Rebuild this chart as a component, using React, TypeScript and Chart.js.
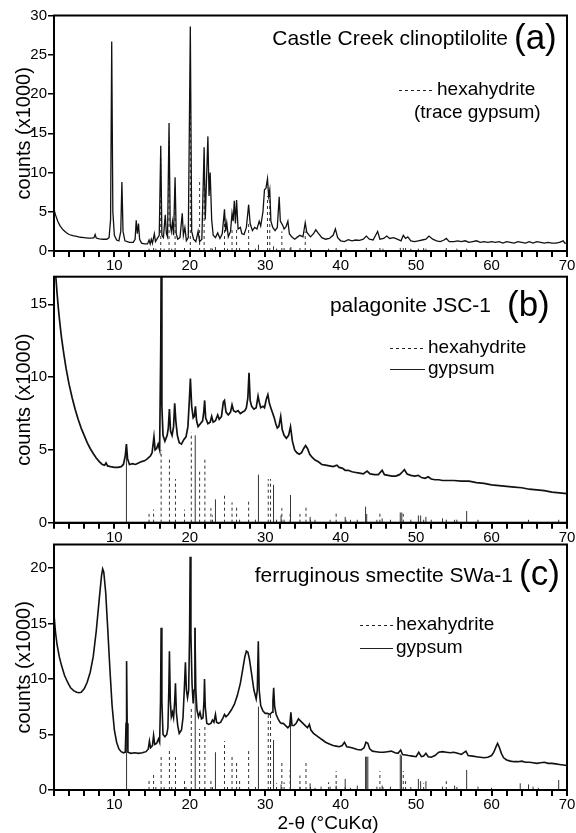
import React, { useEffect, useRef } from "react";
import { Chart, registerables } from "chart.js";
Chart.register(...registerables);

const FONT = "'Liberation Sans', Arial, Helvetica, sans-serif";
const X_MIN = 2;
const X_MAX = 70;
const X_LABELED = [10, 20, 30, 40, 50, 60, 70];
const Y_STEP = 5;
const Y_TITLE = "counts (x1000)";
const X_TITLE = "2-\u03b8 (\u00b0CuK\u03b1)";

type Pt = [number, number];

// ---------- (a) Castle Creek clinoptilolite ----------
const profileA: Pt[] = [
  [2, 5.3], [2.2, 4.6], [2.5, 3.8], [2.8, 3.2], [3.2, 2.7], [3.6, 2.35], [4, 2.1], [4.5, 1.95], [5, 1.85], [5.5, 1.75],
  [6, 1.7], [6.5, 1.65], [7, 1.65], [7.3, 1.7], [7.45, 2.1], [7.6, 1.65], [8, 1.55], [8.5, 1.5], [9, 1.5], [9.3, 1.7],
  [9.5, 4], [9.65, 26.7], [9.8, 5], [10, 2], [10.3, 1.4], [10.6, 1.3], [10.85, 2.5], [11.0, 8.8], [11.15, 2.5], [11.4, 1.3],
  [12, 1.1], [12.5, 1.1], [12.75, 1.5], [12.9, 3.9], [13.05, 2.2], [13.2, 3.5], [13.35, 1.5], [13.6, 1.0], [14, 0.9], [14.4, 0.9],
  [14.6, 1.4], [14.75, 0.9], [14.9, 1.5], [15.05, 1.0], [15.3, 2.2], [15.45, 1.2], [15.7, 1.6], [15.95, 2.0], [16.15, 13.4], [16.3, 2.0],
  [16.5, 1.7], [16.75, 4.6], [16.9, 2.2], [17.05, 1.8], [17.25, 16.3], [17.4, 3.5], [17.55, 2.5], [17.7, 3.7], [17.85, 2.0], [18.05, 9.4],
  [18.2, 2.2], [18.4, 1.5], [18.7, 1.7], [19.0, 4.8], [19.15, 2.0], [19.35, 3.0], [19.55, 1.3], [19.8, 1.7], [20.07, 28.6], [20.25, 2.5],
  [20.5, 1.5], [20.8, 1.2], [21.1, 2.5], [21.3, 1.2], [21.6, 1.5], [21.9, 13.2], [22.05, 4], [22.4, 14.6], [22.55, 7], [22.7, 10],
  [22.9, 4], [23.1, 2], [23.4, 1.7], [23.7, 2.3], [24.0, 1.6], [24.3, 2.2], [24.6, 5.3], [24.75, 2.5], [24.9, 3.6], [25.1, 1.8],
  [25.4, 2.5], [25.6, 4.8], [25.75, 3.8], [25.9, 6.4], [26.05, 3.5], [26.2, 6.5], [26.4, 2.8], [26.7, 3.0], [26.9, 2.2], [27.2, 2.1],
  [27.5, 3.0], [27.8, 5.9], [28.0, 3.5], [28.3, 2.6], [28.6, 3.0], [28.9, 2.8], [29.2, 3.8], [29.4, 3.2], [29.7, 5.0], [29.9, 7.8],
  [30.1, 8.0], [30.3, 9.2], [30.45, 7.0], [30.6, 7.8], [30.75, 3.8], [31.0, 3.0], [31.3, 2.6], [31.6, 3.0], [31.85, 6.9], [32.0, 3.8],
  [32.3, 3.3], [32.5, 2.8], [32.75, 3.1], [33.0, 3.8], [33.2, 2.2], [33.5, 1.8], [33.9, 1.5], [34.3, 1.8], [34.6, 2.0], [35.0, 1.8],
  [35.3, 3.6], [35.5, 2.4], [36.0, 1.8], [36.4, 2.2], [36.7, 2.7], [37.0, 2.3], [37.5, 1.7], [38.0, 1.5], [38.5, 1.6], [39.0, 2.0],
  [39.3, 2.8], [39.6, 1.7], [40.0, 1.3], [40.5, 1.2], [41.0, 1.45], [41.5, 1.3], [42.0, 1.4], [42.5, 1.35], [43.0, 1.5], [43.4, 1.9],
  [43.8, 1.5], [44.3, 1.4], [44.9, 2.5], [45.2, 1.5], [45.7, 1.6], [46.1, 1.9], [46.5, 1.6], [47.0, 1.7], [47.5, 1.5], [48.0, 1.3],
  [48.3, 2.0], [48.6, 1.6], [48.9, 1.8], [49.3, 1.3], [49.8, 1.2], [50.3, 1.3], [50.8, 1.4], [51.3, 1.5], [51.7, 1.9], [52.2, 1.5],
  [52.7, 1.3], [53.2, 1.2], [53.7, 1.4], [54.0, 1.6], [54.4, 1.2], [55.0, 1.2], [55.5, 1.3], [56.0, 1.2], [56.5, 1.3], [57.0, 1.1],
  [57.5, 1.2], [58.0, 1.3], [58.5, 1.1], [59.0, 1.2], [59.5, 1.1], [60.0, 1.2], [60.5, 1.1], [61.0, 1.2], [61.5, 1.0], [62.0, 1.2],
  [62.5, 1.1], [63.0, 1.0], [63.5, 1.2], [64.0, 1.1], [64.5, 1.0], [65.0, 1.2], [65.5, 1.0], [66.0, 1.2], [66.5, 1.1], [67.0, 1.0],
  [67.5, 1.1], [68.0, 1.0], [68.5, 1.0], [69.0, 1.1], [69.5, 1.3], [69.7, 1.0], [70, 1.0],
];
const hexaA: Pt[] = [
  [14.6, 0.3], [15.2, 0.5], [15.5, 0.3], [16.15, 12], [16.6, 0.3], [17.25, 14], [17.6, 0.3], [18.05, 8], [19.3, 0.6], [20.07, 20],
  [21.3, 9.2], [21.9, 11], [22.8, 0.6], [23.0, 0.3], [24.6, 4.5], [25.0, 0.3], [25.6, 3], [26.2, 2.8], [26.6, 0.6], [27.8, 3.5],
  [28.7, 0.3], [30.3, 7], [30.6, 7], [31.5, 0.3], [32.2, 2.5], [32.5, 0.4], [33.3, 0.5], [34.6, 0.6], [35.3, 2.5], [36.0, 0.3],
  [38.4, 0.3], [39.4, 0.6], [40.7, 0.3], [45.2, 0.6], [45.6, 0.3], [48.3, 0.6], [48.6, 0.4], [49.3, 0.3], [51.0, 0.4], [54.0, 0.4],
  [55.4, 0.3],
];
const gypA: Pt[] = [
  [23.4, 0.5], [29.1, 0.8], [31.1, 0.6], [33.4, 0.5], [43.4, 0.4], [47.9, 0.4], [50.3, 0.3], [51.3, 0.3], [56.7, 0.3],
];

// ---------- (b) palagonite JSC-1 ----------
const profileB: Pt[] = [
  [2, 19], [2.2, 17.2], [2.4, 15.8], [2.6, 14.6], [2.8, 13.6], [3, 12.7], [3.3, 11.6], [3.6, 10.6], [4, 9.5], [4.4, 8.6],
  [4.8, 7.8], [5.2, 7.1], [5.6, 6.5], [6, 6.0], [6.4, 5.5], [6.8, 5.1], [7.2, 4.75], [7.6, 4.45], [8, 4.2], [8.4, 4.0],
  [8.7, 3.95], [8.9, 4.1], [9.1, 3.9], [9.5, 3.85], [10, 3.8], [10.5, 3.8], [10.9, 3.85], [11.2, 4.0], [11.45, 4.6], [11.6, 5.4],
  [11.75, 4.4], [12, 4.0], [12.4, 4.05], [12.8, 4.0], [13.2, 4.1], [13.6, 4.2], [14, 4.25], [14.4, 4.4], [14.8, 4.6], [15.0, 4.8],
  [15.25, 5.9], [15.4, 5.0], [15.6, 5.1], [15.8, 5.4], [16.0, 5.0], [16.15, 12], [16.22, 19], [16.3, 8], [16.45, 6], [16.7, 5.6],
  [17.0, 6.0], [17.15, 6.5], [17.3, 7.8], [17.45, 6.3], [17.65, 6.0], [17.85, 6.6], [18.0, 8.2], [18.15, 7.0], [18.35, 6.0], [18.6, 5.5],
  [18.9, 5.4], [19.2, 5.7], [19.5, 5.9], [19.75, 6.6], [19.95, 8.5], [20.08, 9.9], [20.25, 8.0], [20.45, 7.2], [20.6, 7.3], [20.75, 8.0],
  [20.9, 7.0], [21.1, 6.6], [21.4, 6.8], [21.7, 7.0], [21.85, 7.6], [21.97, 8.4], [22.1, 7.2], [22.4, 6.8], [22.7, 6.9], [22.9, 7.3],
  [23.1, 6.9], [23.4, 7.0], [23.7, 7.4], [23.9, 7.1], [24.2, 7.3], [24.45, 8.3], [24.6, 8.4], [24.8, 7.6], [25.1, 7.4], [25.4, 7.6],
  [25.6, 8.1], [25.8, 7.7], [26.1, 7.6], [26.4, 7.7], [26.7, 7.5], [27.0, 7.6], [27.3, 7.7], [27.5, 7.9], [27.7, 8.6], [27.85, 10.3],
  [28.0, 8.4], [28.2, 8.0], [28.5, 7.8], [28.8, 7.9], [29.05, 8.7], [29.2, 8.3], [29.4, 7.9], [29.7, 8.0], [29.9, 7.9], [30.15, 8.5],
  [30.35, 8.8], [30.55, 8.2], [30.8, 7.8], [31.0, 7.5], [31.2, 7.2], [31.4, 6.8], [31.6, 6.5], [31.8, 6.6], [32.05, 7.3], [32.25, 6.4],
  [32.5, 6.0], [32.8, 5.8], [33.1, 6.0], [33.35, 6.6], [33.6, 5.6], [33.9, 5.0], [34.2, 4.8], [34.5, 4.7], [34.8, 4.8], [35.1, 5.1],
  [35.35, 5.3], [35.6, 5.1], [35.9, 4.7], [36.2, 4.5], [36.6, 4.3], [37.0, 4.2], [37.5, 4.0], [38.0, 3.95], [38.5, 3.9], [39.0, 3.85],
  [39.5, 3.95], [39.8, 3.8], [40.2, 3.75], [40.6, 3.6], [41.0, 3.6], [41.5, 3.5], [42, 3.45], [42.5, 3.4], [43, 3.35], [43.5, 3.55],
  [43.9, 3.35], [44.5, 3.3], [45, 3.3], [45.5, 3.6], [45.8, 3.3], [46.3, 3.25], [46.8, 3.2], [47.3, 3.2], [47.8, 3.3], [48.2, 3.5],
  [48.45, 3.65], [48.8, 3.35], [49.3, 3.25], [49.8, 3.2], [50.3, 3.25], [50.7, 3.1], [51.2, 3.05], [51.6, 3.15], [52, 3.0], [52.5, 2.95],
  [53, 2.95], [53.5, 2.9], [54, 2.9], [55, 2.9], [56, 2.85], [57, 2.85], [58, 2.75], [59, 2.7], [60, 2.6], [61, 2.55],
  [62, 2.5], [63, 2.45], [64, 2.4], [65, 2.3], [66, 2.25], [67, 2.2], [68, 2.1], [69, 2.05], [70, 2.0],
];
const hexaB: Pt[] = [
  [14.6, 0.6], [15.2, 0.9], [16.2, 5.0], [17.3, 4.4], [18.1, 3.0], [19.3, 0.9], [20.2, 6.2], [21.3, 3.5], [22.0, 4.4], [22.8, 1.0],
  [23.0, 0.5], [24.6, 2.0], [25.6, 1.4], [26.2, 1.1], [26.6, 0.4], [27.8, 1.6], [28.7, 0.4], [30.4, 3.0], [30.7, 3.0], [31.5, 0.4],
  [32.2, 1.0], [32.5, 0.4], [33.3, 0.6], [34.6, 0.6], [35.4, 1.1], [36.0, 0.3], [39.4, 0.8], [40.7, 0.3], [45.2, 0.8], [48.3, 0.6],
  [49.3, 0.4], [51.0, 0.4], [52.0, 0.3], [54.0, 0.4], [55.4, 0.3],
];
const gypB: Pt[] = [
  [11.6, 5.4], [20.72, 6.0], [23.4, 1.6], [29.1, 3.3], [31.1, 2.6], [32.1, 0.5], [33.35, 1.9], [35.95, 0.4], [36.6, 0.2], [38.6, 0.2],
  [40.6, 0.4], [41.3, 0.2], [42.2, 0.2], [43.3, 1.1], [43.45, 0.6], [44.8, 0.2], [45.5, 0.3], [46.6, 0.2], [47.9, 0.7], [48.1, 0.7],
  [50.3, 0.5], [50.6, 0.5], [51.3, 0.4], [53.5, 0.3], [55.1, 0.2], [56.7, 0.8], [58.2, 0.2], [64.9, 0.2], [68.9, 0.2],
];

// ---------- (c) ferruginous smectite SWa-1 ----------
const profileC: Pt[] = [
  [2, 15.8], [2.2, 14.2], [2.4, 13.1], [2.7, 12.0], [3, 11.2], [3.4, 10.3], [3.8, 9.7], [4.2, 9.2], [4.6, 8.95], [5, 8.8],
  [5.3, 8.75], [5.6, 8.8], [6, 9.1], [6.4, 9.7], [6.8, 10.6], [7.2, 12.0], [7.6, 14.3], [8, 17.2], [8.3, 19.3], [8.45, 19.9],
  [8.6, 19.6], [8.85, 17.8], [9.1, 14.8], [9.4, 11.0], [9.7, 7.6], [10, 5.4], [10.3, 4.3], [10.6, 3.7], [10.9, 3.45], [11.2, 3.35],
  [11.45, 3.4], [11.55, 6], [11.62, 11.6], [11.7, 6], [11.8, 3.4], [12.2, 3.3], [12.7, 3.35], [13.2, 3.3], [13.7, 3.35], [14.2, 3.45],
  [14.5, 3.7], [14.65, 4.4], [14.8, 3.8], [15.05, 4.0], [15.2, 4.9], [15.35, 4.1], [15.6, 4.2], [15.85, 4.6], [16.0, 4.3], [16.12, 8],
  [16.2, 14.6], [16.3, 8], [16.45, 5.0], [16.7, 4.8], [16.95, 5.0], [17.1, 5.6], [17.22, 9], [17.3, 12.5], [17.42, 8], [17.55, 6.6],
  [17.7, 7.0], [17.85, 6.5], [18.0, 8], [18.1, 9.6], [18.22, 7], [18.4, 5.8], [18.6, 5.1], [18.9, 5.4], [19.1, 6.5], [19.3, 9.5],
  [19.42, 11.5], [19.55, 9.0], [19.7, 8.3], [19.85, 9.0], [19.97, 14], [20.05, 21.0], [20.15, 14], [20.3, 9.5], [20.45, 7.8], [20.58, 9],
  [20.68, 14.6], [20.8, 9], [20.95, 7.2], [21.15, 6.6], [21.35, 7.0], [21.55, 6.4], [21.75, 6.5], [21.88, 8], [21.95, 10.0], [22.05, 7.5],
  [22.25, 6.0], [22.5, 5.9], [22.8, 6.0], [23.0, 6.3], [23.2, 6.1], [23.4, 6.8], [23.55, 6.1], [23.8, 6.0], [24.1, 6.1], [24.4, 6.5],
  [24.6, 6.8], [24.8, 6.6], [25.1, 6.8], [25.5, 7.2], [25.9, 7.7], [26.3, 8.5], [26.7, 9.6], [27.0, 10.8], [27.3, 12.0], [27.5, 12.5],
  [27.7, 12.4], [27.9, 11.8], [28.2, 10.4], [28.5, 9.0], [28.8, 8.2], [28.95, 9], [29.08, 13.4], [29.2, 9], [29.4, 7.6], [29.7, 7.1],
  [30.0, 6.9], [30.3, 6.9], [30.6, 6.8], [30.9, 7.0], [31.02, 8], [31.12, 9.2], [31.25, 7.5], [31.45, 6.8], [31.7, 6.4], [31.95, 6.1],
  [32.15, 6.0], [32.4, 6.0], [32.7, 5.8], [33.0, 5.6], [33.25, 5.8], [33.4, 7.0], [33.55, 5.8], [33.8, 5.8], [34.1, 6.0], [34.4, 6.4],
  [34.7, 6.2], [35.0, 6.0], [35.3, 5.8], [35.6, 5.6], [35.85, 5.9], [36.05, 5.4], [36.4, 5.1], [36.8, 4.9], [37.2, 4.7], [37.6, 4.5],
  [38.0, 4.3], [38.5, 4.15], [39.0, 4.0], [39.4, 3.95], [39.8, 3.9], [40.2, 4.0], [40.5, 4.3], [40.8, 3.9], [41.2, 3.85], [41.7, 3.75],
  [42.2, 3.65], [42.7, 3.6], [43.1, 3.8], [43.35, 4.3], [43.6, 4.2], [43.85, 3.7], [44.2, 3.5], [44.7, 3.45], [45.2, 3.4], [45.7, 3.4],
  [46.2, 3.45], [46.7, 3.5], [47.2, 3.35], [47.6, 3.3], [47.95, 3.6], [48.2, 3.2], [48.6, 3.15], [49.0, 3.1], [49.5, 3.05], [50.0, 3.0],
  [50.35, 3.4], [50.7, 3.0], [51.0, 3.05], [51.3, 3.3], [51.6, 3.0], [52.0, 2.95], [52.5, 3.1], [53.0, 3.4], [53.5, 3.45], [54.0, 3.4],
  [54.5, 3.35], [55.0, 3.4], [55.5, 3.3], [56.0, 3.2], [56.6, 3.5], [56.9, 3.1], [57.5, 3.05], [58.0, 3.0], [58.5, 2.95], [59.0, 2.9],
  [59.5, 2.95], [60.0, 3.1], [60.3, 3.4], [60.6, 3.9], [60.8, 4.2], [61.0, 3.9], [61.3, 3.3], [61.6, 2.9], [62.0, 2.7], [62.5, 2.6],
  [63.0, 2.55], [63.5, 2.55], [64.0, 2.6], [64.5, 2.5], [65.0, 2.5], [65.5, 2.45], [66.0, 2.4], [66.5, 2.45], [67.0, 2.5], [67.5, 2.4],
  [68.0, 2.4], [68.5, 2.35], [69.0, 2.3], [69.5, 2.25], [70.0, 2.2],
];
const hexaC: Pt[] = [
  [14.6, 1.0], [15.2, 1.5], [15.5, 0.5], [16.2, 3.0], [16.6, 0.5], [17.3, 3.6], [17.6, 0.5], [18.1, 3.2], [19.3, 0.9], [19.5, 0.5],
  [20.2, 7.5], [21.3, 5.5], [22.0, 5.8], [22.8, 1.0], [23.0, 0.3], [24.6, 4.4], [25.0, 0.3], [25.6, 3.2], [26.2, 2.6], [26.6, 1.0],
  [27.8, 3.5], [28.7, 0.3], [30.4, 6.8], [30.7, 6.8], [31.5, 0.6], [32.2, 2.6], [32.5, 0.7], [33.3, 1.8], [34.6, 1.3], [35.4, 2.7],
  [36.0, 0.4], [38.4, 0.7], [39.4, 1.7], [40.6, 0.4], [45.2, 1.7], [45.6, 0.5], [48.3, 1.7], [48.6, 0.8], [49.3, 0.5], [51.0, 0.6],
  [54.0, 0.8], [55.4, 0.5],
];
const gypC: Pt[] = [
  [11.62, 11.6], [20.72, 14.6], [23.4, 3.4], [29.1, 7.5], [31.1, 4.5], [32.1, 0.5], [33.35, 6.9], [34.6, 0.3], [35.95, 0.6], [36.6, 0.2],
  [37.4, 0.3], [38.6, 0.3], [39.4, 0.4], [40.6, 1.0], [41.3, 0.2], [42.2, 0.4], [43.3, 3.0], [43.45, 3.0], [43.6, 3.0], [44.8, 0.3],
  [45.5, 0.4], [46.6, 0.3], [47.9, 3.2], [48.05, 3.1], [50.3, 1.0], [50.6, 0.8], [51.3, 0.8], [53.5, 0.3], [55.1, 0.4], [56.7, 1.8],
  [58.2, 0.3], [60.0, 0.2], [63.8, 0.6], [64.9, 0.5], [65.5, 0.3], [66.2, 0.2], [68.9, 0.9],
];

type LegendItem = { label: string; dash: number[] | null };
type PanelSpec = {
  top: number; bottom: number; yMax: number;
  profile: Pt[]; hexa: Pt[]; gyp: Pt[]; lineWidth: number;
  title: string; letter: string;
  titleRight: number; titleBase: number; letterLeft: number; letterBase: number;
  legendX0: number; legendX1: number; legendY: number; legendGap: number;
  legend: LegendItem[];
  showXTitle: boolean;
};

const panels: PanelSpec[] = [
  {
    top: 15.5, bottom: 251, yMax: 30, profile: profileA, hexa: hexaA, gyp: gypA, lineWidth: 1.3,
    title: "Castle Creek clinoptilolite", letter: "(a)",
    titleRight: 508, titleBase: 45, letterLeft: 514, letterBase: 49,
    legendX0: 399, legendX1: 434, legendY: 90, legendGap: 23,
    legend: [{ label: "hexahydrite", dash: [3, 3] }, { label: "(trace gypsum)", dash: null }],
    showXTitle: false,
  },
  {
    top: 276.7, bottom: 522.7, yMax: 16.9, profile: profileB, hexa: hexaB, gyp: gypB, lineWidth: 1.7,
    title: "palagonite JSC-1", letter: "(b)",
    titleRight: 491, titleBase: 312, letterLeft: 507, letterBase: 316,
    legendX0: 390, legendX1: 425, legendY: 348, legendGap: 21,
    legend: [{ label: "hexahydrite", dash: [3, 3] }, { label: "gypsum", dash: [] }],
    showXTitle: false,
  },
  {
    top: 544.5, bottom: 790, yMax: 22.1, profile: profileC, hexa: hexaC, gyp: gypC, lineWidth: 1.6,
    title: "ferruginous smectite SWa-1", letter: "(c)",
    titleRight: 513, titleBase: 582, letterLeft: 519, letterBase: 585,
    legendX0: 360, legendX1: 393, legendY: 625, legendGap: 23,
    legend: [{ label: "hexahydrite", dash: [3, 3] }, { label: "gypsum", dash: [] }],
    showXTitle: true,
  },
];

const W = 576;
const H = 833;
const PLOT_LEFT = 54;
const PLOT_RIGHT = 567;
const X_AXIS_H = 20;

function toPoints(list: Pt[]) {
  return list.map(([x, y]) => ({ x, y }));
}
function toSticks(list: Pt[]) {
  const out: { x: number; y: number | null }[] = [];
  for (const [x, h] of list) {
    out.push({ x, y: 0 }, { x, y: h }, { x, y: null });
  }
  return out;
}

function Panel({ spec }: { spec: PanelSpec }) {
  const ref = useRef<HTMLCanvasElement>(null);
  useEffect(() => {
    const decor = {
      id: "decor",
      afterDraw(chart: any) {
        const { ctx, chartArea } = chart;
        const { left, right, top, bottom } = chartArea;
        ctx.save();
        ctx.strokeStyle = "#000";
        ctx.lineWidth = 2;
        ctx.setLineDash([]);
        ctx.strokeRect(left, top, right - left, bottom - top);
        ctx.fillStyle = "#000";
        ctx.textBaseline = "alphabetic";
        ctx.textAlign = "right";
        ctx.font = `21px ${FONT}`;
        ctx.fillText(spec.title, spec.titleRight, spec.titleBase);
        ctx.textAlign = "left";
        ctx.font = `35px ${FONT}`;
        ctx.fillText(spec.letter, spec.letterLeft, spec.letterBase);
        ctx.font = `19px ${FONT}`;
        ctx.textBaseline = "middle";
        spec.legend.forEach((item, i) => {
          const y = spec.legendY + i * spec.legendGap;
          if (item.dash) {
            ctx.lineWidth = 1;
            ctx.strokeStyle = "#222";
            ctx.setLineDash(item.dash);
            ctx.beginPath();
            ctx.moveTo(spec.legendX0, y + 0.5);
            ctx.lineTo(spec.legendX1, y + 0.5);
            ctx.stroke();
            ctx.setLineDash([]);
            ctx.fillText(item.label, spec.legendX1 + 3, y);
          } else {
            ctx.fillText(item.label, spec.legendX0 + 15, y);
          }
        });
        ctx.save();
        ctx.translate(24, (top + bottom) / 2);
        ctx.rotate(-Math.PI / 2);
        ctx.textAlign = "center";
        ctx.textBaseline = "middle";
        ctx.font = `20px ${FONT}`;
        ctx.fillText(Y_TITLE, 0, 0);
        ctx.restore();
        if (spec.showXTitle) {
          ctx.textAlign = "center";
          ctx.textBaseline = "alphabetic";
          ctx.font = `19px ${FONT}`;
          ctx.fillText(X_TITLE, 328, 829);
        }
        ctx.restore();
      },
    };

    const chart = new Chart(ref.current as HTMLCanvasElement, {
      type: "line",
      data: {
        datasets: [
          {
            label: "sample",
            data: toPoints(spec.profile) as any,
            borderColor: "#111",
            borderWidth: spec.lineWidth,
            pointRadius: 0,
            tension: 0,
            order: 0,
          },
          {
            label: "hexahydrite",
            data: toSticks(spec.hexa) as any,
            borderColor: "#333",
            borderWidth: 1,
            borderDash: [3, 3],
            pointRadius: 0,
            spanGaps: false,
            order: 2,
          },
          {
            label: "gypsum",
            data: toSticks(spec.gyp) as any,
            borderColor: "#333",
            borderWidth: 1,
            pointRadius: 0,
            spanGaps: false,
            order: 1,
          },
        ],
      },
      options: {
        animation: false,
        responsive: false,
        maintainAspectRatio: false,
        events: [],
        layout: {
          padding: {
            left: 0,
            right: W - PLOT_RIGHT,
            top: spec.top,
            bottom: H - spec.bottom - X_AXIS_H,
          },
        },
        plugins: { legend: { display: false }, tooltip: { enabled: false }, title: { display: false } },
        scales: {
          x: {
            type: "linear",
            min: X_MIN,
            max: X_MAX,
            afterFit: (s: any) => { s.height = X_AXIS_H; },
            ticks: {
              stepSize: 2,
              autoSkip: false,
              maxRotation: 0,
              includeBounds: false,
              padding: 0,
              color: "#000",
              font: { family: FONT, size: 15 },
              callback: (v: any) => (X_LABELED.includes(Number(v)) ? String(v) : ""),
            },
            grid: { drawOnChartArea: false, drawTicks: true, tickLength: 6, color: "#000", lineWidth: 2 },
            border: { display: true, color: "#000", width: 2 },
          },
          y: {
            type: "linear",
            min: 0,
            max: spec.yMax,
            afterFit: (s: any) => { s.width = PLOT_LEFT; },
            ticks: {
              stepSize: Y_STEP,
              includeBounds: false,
              padding: 1,
              color: "#000",
              font: { family: FONT, size: 15 },
            },
            grid: { drawOnChartArea: false, drawTicks: true, tickLength: 6, color: "#000", lineWidth: 1.5 },
            border: { display: true, color: "#000", width: 2 },
          },
        },
      } as any,
      plugins: [decor],
    });
    return () => chart.destroy();
  }, [spec]);
  return (
    <canvas
      ref={ref}
      width={W}
      height={H}
      style={{ position: "absolute", left: 0, top: 0, width: W, height: H }}
    />
  );
}

export default function App() {
  return (
    <div style={{ position: "absolute", left: 0, top: 0, width: W, height: H, background: "#fff", overflow: "hidden" }}>
      {panels.map((p, i) => (
        <Panel key={i} spec={p} />
      ))}
    </div>
  );
}
